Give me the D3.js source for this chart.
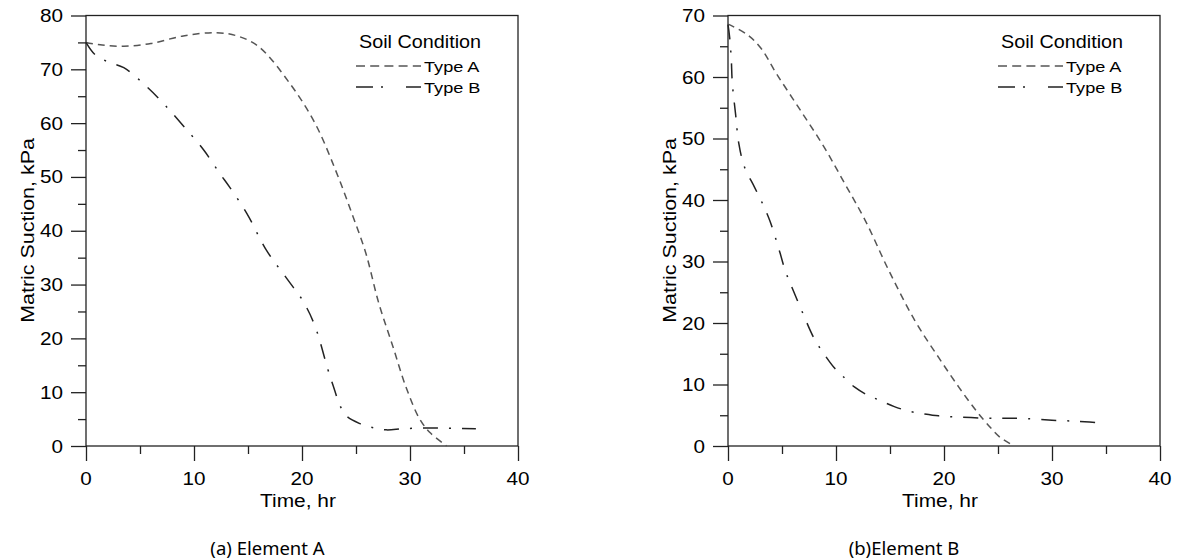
<!DOCTYPE html>
<html>
<head>
<meta charset="utf-8">
<script src="https://cdn.jsdelivr.net/npm/d3@7"></script>
<style>
  body { margin: 0; background: #fff; }
  svg { display: block; }
  text { font-family: Arial, "Liberation Sans", sans-serif; fill: #000; }
  .caption { font-family: "Noto Sans", "Open Sans", sans-serif; }
</style>
</head>
<body>
<div id="chart"></div>
<script>
// Data (time in hr, matric suction in kPa)
const seriesNames = ["Type A", "Type B"];
const legendTitle = "Soil Condition";

const elementA_typeA = [
  [0, 75], [1.5, 74.5], [3.5, 74.3], [6, 74.8], [9, 76.2], [12, 76.8], [14, 76.2],
  [16, 74.2], [18.9, 67.3], [21.2, 60], [23.1, 51.3], [24.6, 43.3], [25.9, 35.9],
  [27.1, 26.6], [28.4, 18.6], [29.6, 11.1], [30.9, 5.0], [31.9, 2.4], [33.4, 0]
];
const elementA_typeB = [
  [0, 75], [0.8, 72.8], [2, 71.4], [3.5, 70.3], [5.5, 67], [7.2, 63.6], [9, 59.5],
  [10.9, 55], [12.4, 50.6], [13.3, 48.1], [14.9, 43.2], [16.7, 36.4], [18.6, 31.1],
  [20.1, 26.9], [21.2, 22.3], [22.4, 14.2], [23, 10.5], [23.5, 7.6], [24.1, 5.6],
  [25.3, 4.2], [26.6, 3.4], [27.8, 3.0], [29.3, 3.2], [31.2, 3.35], [36.1, 3.2]
];
const elementB_typeA = [
  [0, 68.6], [1.7, 67], [3, 64.8], [4.5, 60.5], [6.7, 54.6], [8.9, 48.6],
  [10.8, 42.7], [12.7, 36.7], [14.9, 28.5], [17.3, 20.4], [19.5, 14.4],
  [21.4, 9.5], [23, 5.7], [24.3, 3.0], [25.2, 1.4], [26.3, 0.2]
];
const elementB_typeB = [
  [0, 68.5], [0.15, 66.5], [0.3, 63], [0.4, 59], [0.7, 54], [1.0, 49.2],
  [1.5, 45.5], [2.45, 42.1], [3.2, 39.4], [3.9, 36.5], [4.8, 31.5], [5.3, 28.5],
  [5.8, 26.3], [6.9, 21.7], [8, 17.4], [8.8, 15.2], [9.8, 12.8], [10.6, 11.4],
  [11.7, 9.6], [13, 8.2], [14.1, 7.4], [15.4, 6.4], [16.9, 5.6], [18.2, 5.2],
  [19.5, 4.9], [21.4, 4.7], [23.6, 4.55], [25.5, 4.5], [27.1, 4.5], [30, 4.2],
  [32.5, 4.0], [34.9, 3.7]
];

const xTicksMajor = [0, 10, 20, 30, 40];
const xTicksMinor = [5, 15, 25, 35];
const yTicksA = [0, 10, 20, 30, 40, 50, 60, 70, 80];
const yTicksB = [0, 10, 20, 30, 40, 50, 60, 70];

const panels = [
  { left: 86, right: 518, yMax: 80, yTicks: yTicksA,
    series: [elementA_typeA, elementA_typeB], caption: "(a) Element A", captionX: 267.5 },
  { left: 728, right: 1160, yMax: 70, yTicks: yTicksB,
    series: [elementB_typeA, elementB_typeB], caption: "(b)Element B", captionX: 904 },
];

const dimensions = { width: 1178, height: 560, top: 15.5, bottom: 446 };

const styles = [
  { stroke: "#555", dash: "7,5", width: 1.5 },
  { stroke: "#222", dash: "15,11,2,11", width: 1.5 },
];

const svg = d3.select("#chart").append("svg")
  .attr("width", dimensions.width)
  .attr("height", dimensions.height);

// text with a horizontal stretch, like the original typeface
const addText = (g, str, x, y, opts = {}) => {
  const rot = opts.rotate || 0;
  const sx = opts.sx || 1.15;
  return g.append("text")
    .attr("transform", `translate(${x},${y}) rotate(${rot}) scale(${sx},1)`)
    .attr("text-anchor", opts.anchor || "start")
    .style("font-size", (opts.size || 18) + "px")
    .text(str);
};

panels.forEach((p) => {
  const g = svg.append("g");

  const xScale = d3.scaleLinear().domain([0, 40]).range([p.left, p.right]);
  const yScale = d3.scaleLinear().domain([0, p.yMax]).range([dimensions.bottom, dimensions.top]);

  const yMinor = d3.range(5, p.yMax, 10);

  // Axes (ticks outside, labels added by hand)
  g.append("g")
    .attr("transform", `translate(0,${dimensions.bottom})`)
    .call(d3.axisBottom(xScale).tickValues(xTicksMajor).tickSize(15).tickSizeOuter(0).tickFormat(""));
  g.append("g")
    .attr("transform", `translate(0,${dimensions.bottom})`)
    .call(d3.axisBottom(xScale).tickValues(xTicksMinor).tickSize(8).tickSizeOuter(0).tickFormat(""));
  g.append("g")
    .attr("transform", `translate(${p.left},0)`)
    .call(d3.axisLeft(yScale).tickValues(p.yTicks).tickSize(15).tickSizeOuter(0).tickFormat(""));
  g.append("g")
    .attr("transform", `translate(${p.left},0)`)
    .call(d3.axisLeft(yScale).tickValues(yMinor).tickSize(8).tickSizeOuter(0).tickFormat(""));

  g.selectAll(".domain").remove();
  g.selectAll(".tick line").attr("stroke", "#222").attr("stroke-width", 1.3);

  xTicksMajor.forEach((v) => {
    addText(g, v, xScale(v), dimensions.bottom + 39, { anchor: "middle" });
  });
  p.yTicks.forEach((v) => {
    addText(g, v, p.left - 23, yScale(v) + 6.5, { anchor: "end" });
  });

  // Frame
  g.append("rect")
    .attr("x", p.left)
    .attr("y", dimensions.top)
    .attr("width", p.right - p.left)
    .attr("height", dimensions.bottom - dimensions.top)
    .attr("fill", "none")
    .attr("stroke", "#222")
    .attr("stroke-width", 1.3);

  // Curves
  const line = d3.line()
    .x((d) => xScale(d[0]))
    .y((d) => yScale(d[1]))
    .curve(d3.curveCatmullRom.alpha(0.5));

  p.series.forEach((s, i) => {
    g.append("path")
      .datum(s)
      .attr("d", line)
      .attr("fill", "none")
      .attr("stroke", styles[i].stroke)
      .attr("stroke-width", styles[i].width)
      .attr("stroke-dasharray", styles[i].dash);
  });

  // Axis titles
  addText(g, "Time, hr", (p.left + p.right) / 2 - 4, 507, { anchor: "middle", size: 19, sx: 1.1 });
  addText(g, "Matric Suction, kPa", p.left - 52, 230.5, { anchor: "middle", size: 18.5, sx: 1.16, rotate: -90 });

  // Legend
  const lx = p.right - 159;
  addText(g, legendTitle, lx, 48, { size: 18.5, sx: 1.07 });
  seriesNames.forEach((name, i) => {
    const ly = 66 + i * 21;
    g.append("line")
      .attr("x1", p.right - 162).attr("x2", p.right - 97)
      .attr("y1", ly).attr("y2", ly)
      .attr("stroke", styles[i].stroke)
      .attr("stroke-width", styles[i].width)
      .attr("stroke-dasharray", i === 0 ? "9,5.2" : "17,8,2,23");
    addText(g, name, p.right - 94, ly + 5.5, { size: 15.5, sx: 1.17 });
  });

  // Caption
  g.append("text")
    .attr("class", "caption")
    .attr("x", p.captionX)
    .attr("y", 555)
    .attr("text-anchor", "middle")
    .style("font-size", "18.5px")
    .text(p.caption);
});
</script>
</body>
</html>
